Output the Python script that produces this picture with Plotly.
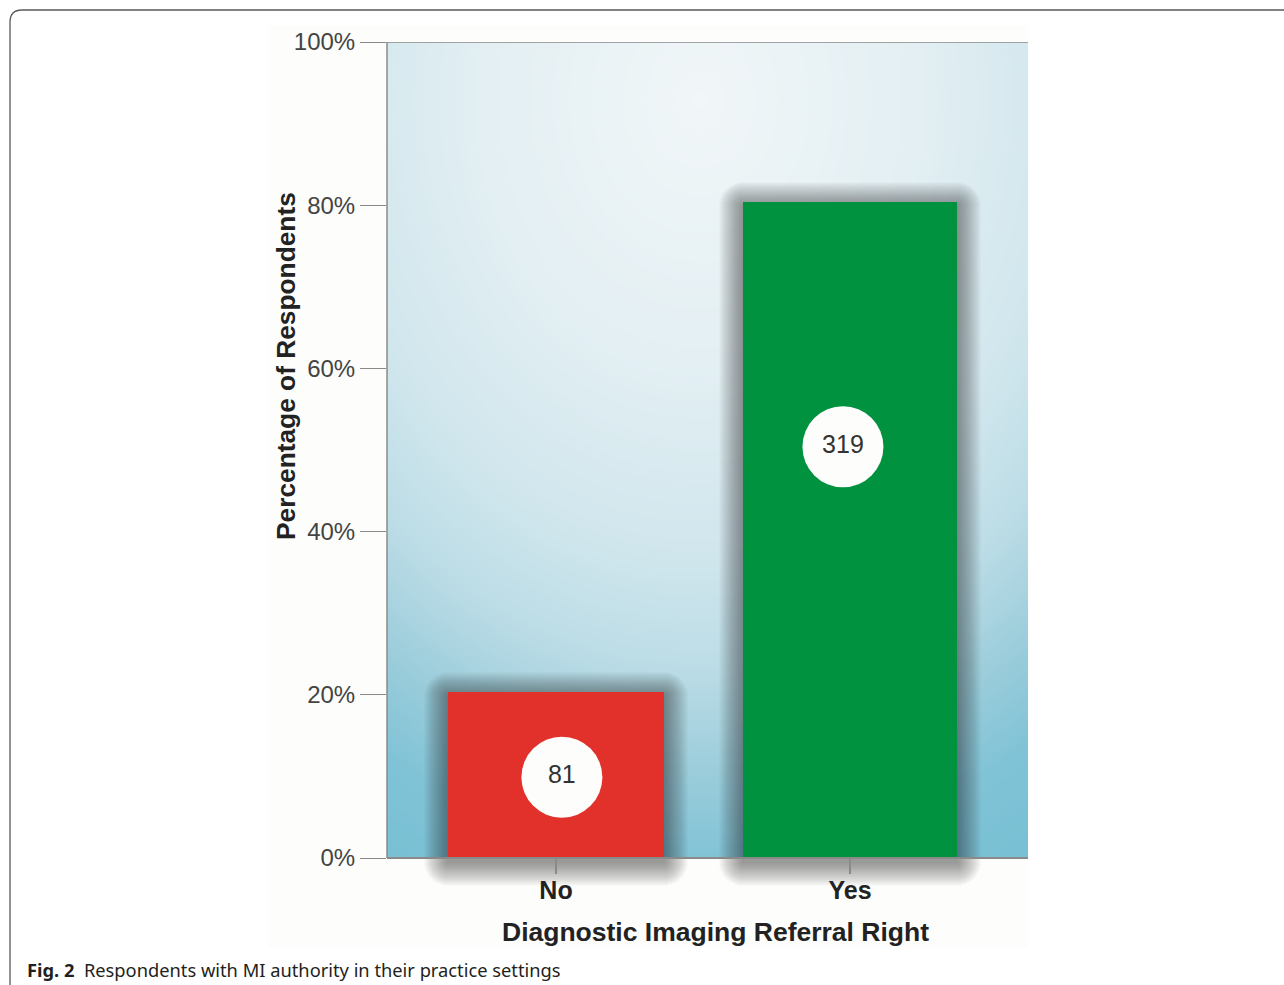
import numpy as np
import plotly.graph_objects as go

# ---------------- data ----------------
categories = ["No", "Yes"]
percent_values = [20.3, 80.4]          # % of respondents
respondent_counts = [81, 319]          # numbers shown in the white badges
y_tick_values = [0, 20, 40, 60, 80, 100]
y_tick_labels = ["0%", "20%", "40%", "60%", "80%", "100%"]
bar_colors = ["#e2302a", "#01923f"]

# ---------------- geometry (pixels) ----------------
W, H = 1284, 985
L, R, T, B = 387, 1028, 42, 892       # plot area
ZERO_PX = 858                          # y pixel of 0%
PPU_Y = (ZERO_PX - T) / 100.0          # px per %
X0_PX, PPU_X = 556, 294                # x pixel of category 0, px per category

xmin = (L - X0_PX) / PPU_X
xmax = (R - X0_PX) / PPU_X
ymin = -(B - ZERO_PX) / PPU_Y
ymax = 100


def px_x(px):
    return (px - L) / (R - L)


def px_y(py):
    return (B - py) / (B - T)


x_pos = list(range(len(categories)))
bar_widths = [0.738, 0.728]
badge_x = [0.02, 0.976]
badge_y = [9.9, 50.4]
FONT = "Liberation Sans, Arial, sans-serif"

fig = go.Figure()

# ---------------- gradient background (heatmap) ----------------
nx, ny = 90, 90
dx = (xmax - xmin) / nx
dy = 100 / ny
hx = np.linspace(xmin + dx / 2, xmax - dx / 2, nx)
hy = np.linspace(dy / 2, 100 - dy / 2, ny)
HX, HY = np.meshgrid(hx, hy)
PX = X0_PX + HX * PPU_X
PY = ZERO_PX - HY * PPU_Y
tt = np.sqrt(((PX - 700) / 620) ** 2 + ((PY - 100) / 760) ** 2)
tmax = 1.15
stops = [(0.0, "#f1f6f8"), (0.35, "#e3eff3"), (0.6, "#d0e6ed"), (0.75, "#bbdce6"),
         (0.88, "#9ccddb"), (1.0, "#80c3d6"), (1.15, "#76bfd3")]
cscale = [[s / tmax, c] for s, c in stops]
fig.add_trace(go.Heatmap(x=hx, y=hy, z=np.clip(tt, 0, tmax), zmin=0, zmax=tmax,
                         colorscale=cscale, showscale=False, zsmooth="best",
                         hoverinfo="skip"))

# ---------------- bar shadows (soft, layered) ----------------
n_layers = 24
off_px = 4
for k in range(1, n_layers + 1):
    d = k * 1.0
    dxu = d / PPU_X
    dyu = d / PPU_Y
    fig.add_trace(go.Bar(
        x=x_pos,
        y=[v + 2 * dyu for v in percent_values],
        base=[-dyu - off_px / PPU_Y] * len(percent_values),
        width=[w + 2 * dxu for w in bar_widths],
        marker=dict(color="rgba(45,55,60,0.022)", line=dict(width=0), cornerradius=int(d)),
        hoverinfo="skip", showlegend=False))

# ---------------- bars ----------------
fig.add_trace(go.Bar(
    x=x_pos, y=percent_values, width=bar_widths,
    marker=dict(color=bar_colors, line=dict(width=0)),
    showlegend=False, hoverinfo="skip"))

# ---------------- badges ----------------
fig.add_trace(go.Scatter(
    x=badge_x, y=badge_y, mode="markers+text",
    text=[str(c) for c in respondent_counts],
    textposition="middle center",
    textfont=dict(family=FONT, size=25, color="#333333"),
    marker=dict(size=81, color="#fdfdfb", line=dict(width=0)),
    showlegend=False, hoverinfo="skip"))

# ---------------- layout ----------------
shapes = [
    # off-white figure panel
    dict(type="rect", xref="paper", yref="paper", x0=px_x(268), x1=px_x(1028),
         y0=px_y(947), y1=px_y(26), fillcolor="#fdfdfb", line=dict(width=0), layer="below"),
    # outer rounded frame
    dict(type="path", xref="paper", yref="paper",
         path=(f"M {px_x(10)},{px_y(995)} L {px_x(10)},{px_y(22)} "
               f"Q {px_x(10)},{px_y(10)} {px_x(22)},{px_y(10)} L {px_x(1295)},{px_y(10)}"),
         line=dict(color="#5a5a5a", width=1.3)),
    # y axis line
    dict(type="line", xref="paper", yref="y", x0=0, x1=0, y0=0, y1=100,
         line=dict(color="#8a8a8a", width=1.5)),
    # top line
    dict(type="line", xref="paper", yref="y", x0=0, x1=1, y0=100, y1=100,
         line=dict(color="#8a8a8a", width=1.5)),
]

annotations = [
    dict(text="<b>Percentage of Respondents</b>", xref="paper", yref="paper",
         x=px_x(286), y=px_y(366), textangle=-90, showarrow=False,
         xanchor="center", yanchor="middle",
         font=dict(family=FONT, size=26.3, color="#222222")),
    dict(text="<b>Diagnostic Imaging Referral Right</b>", xref="paper", yref="paper",
         x=px_x(715), y=px_y(932), showarrow=False, xanchor="center", yanchor="middle",
         font=dict(family=FONT, size=26.5, color="#222222")),
    dict(text="<b>Fig. 2</b>  Respondents with MI authority in their practice settings",
         xref="paper", yref="paper", x=px_x(25), y=px_y(969), showarrow=False,
         xanchor="left", yanchor="middle",
         font=dict(family="Noto Sans, Open Sans, sans-serif", size=18.3, color="#231f20")),
]

fig.update_layout(
    width=W, height=H, autosize=False,
    margin=dict(l=L, r=W - R, t=T, b=H - B, pad=0),
    paper_bgcolor="#ffffff", plot_bgcolor="#fdfdfb",
    barmode="overlay", bargap=0,
    shapes=shapes, annotations=annotations,
    xaxis=dict(range=[xmin, xmax], tickvals=x_pos,
               ticktext=[f"<b>{c}</b>" for c in categories],
               ticks="outside", ticklen=15, tickwidth=1.5, tickcolor="#8a8a8a",
               ticklabelstandoff=-5,
               showline=True, linecolor="#8a8a8a", linewidth=1.5,
               anchor="free", position=px_y(ZERO_PX),
               showgrid=False, zeroline=False,
               tickfont=dict(family=FONT, size=25, color="#222222")),
    yaxis=dict(range=[ymin, ymax], tickvals=y_tick_values, ticktext=y_tick_labels,
               ticks="outside", ticklen=26, tickwidth=1.3, tickcolor="#8a8a8a",
               showline=False, showgrid=False, zeroline=False,
               tickfont=dict(family=FONT, size=24, color="#444444")),
)

fig.write_html("out.html")
